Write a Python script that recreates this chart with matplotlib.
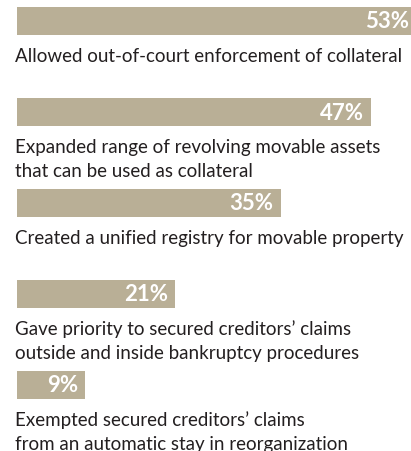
import matplotlib
matplotlib.use("Agg")
import matplotlib.pyplot as plt

# Data
labels = [
    "Allowed out-of-court enforcement of collateral",
    "Expanded range of revolving movable assets\nthat can be used as collateral",
    "Created a unified registry for movable property",
    "Gave priority to secured creditors\u2019 claims\noutside and inside bankruptcy procedures",
    "Exempted secured creditors\u2019 claims\nfrom an automatic stay in reorganization",
]
shares = [53, 47, 35, 21, 9]

bar_color = "#B9AF96"
text_color = "#231F20"
font = "Lato"

W, H = 411, 452
fig = plt.figure(figsize=(W / 100, H / 100), dpi=100)
# axes start at the bar left edge, 7.53 px per percent
left = 17
px_per_pct = 7.53
ax = fig.add_axes([left / W, 0, 1 - left / W, 1])
ax.set_xlim(0, (W - left) / px_per_pct)
step = 91.0
first_center = 22.0
ax.set_ylim((H - first_center) / step, -first_center / step)
ax.axis("off")

ypos = list(range(len(shares)))
ax.barh(ypos, shares, height=28 / step, color=bar_color, left=0)

for i, (lab, v) in enumerate(zip(labels, shares)):
    ax.annotate(f"{v}%", xy=(v, i), xytext=(-7, 0), textcoords="offset pixels",
                ha="right", va="center", color="white", fontsize=16,
                fontweight="bold", family=font, annotation_clip=False)
    # one text per line so every first line sits at the same distance under its bar
    for k, line in enumerate(lab.split("\n")):
        ax.annotate(line, xy=(0, i), xytext=(-2, -40 - 24 * k),
                    textcoords="offset pixels", ha="left", va="baseline",
                    color=text_color, fontsize=13.5, family=font,
                    annotation_clip=False)

fig.savefig("out.png", dpi=100)
